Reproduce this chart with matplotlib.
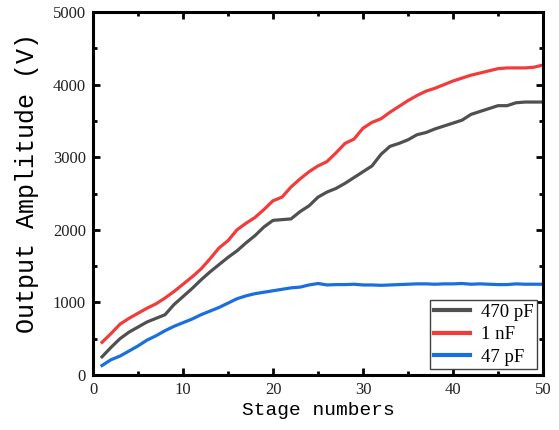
import numpy as np
import matplotlib
matplotlib.use("Agg")
import matplotlib.pyplot as plt
from matplotlib.ticker import MultipleLocator

# stage index 1..50
stages = list(range(1, 51))

amp_470pF = [250, 380, 500, 590, 660, 730, 780, 830, 970, 1080,
             1190, 1310, 1420, 1520, 1620, 1710, 1820, 1920, 2040, 2130,
             2140, 2150, 2250, 2330, 2450, 2520, 2570, 2640, 2720, 2800,
             2880, 3040, 3150, 3190, 3240, 3310, 3340, 3390, 3430, 3470,
             3510, 3590, 3630, 3670, 3710, 3710, 3750, 3760, 3760, 3760]

amp_1nF = [450, 570, 700, 780, 850, 920, 980, 1060, 1150, 1250,
           1350, 1460, 1600, 1750, 1850, 2000, 2090, 2170, 2280, 2400,
           2450, 2590, 2700, 2800, 2880, 2940, 3060, 3190, 3250, 3400,
           3480, 3530, 3620, 3700, 3780, 3850, 3910, 3950, 4000, 4050,
           4090, 4130, 4160, 4190, 4220, 4230, 4230, 4230, 4240, 4270]

amp_47pF = [130, 210, 260, 330, 400, 480, 540, 610, 670, 720,
            770, 830, 880, 930, 990, 1050, 1090, 1120, 1140, 1160,
            1180, 1200, 1210, 1240, 1260, 1240, 1245, 1245, 1250, 1240,
            1240, 1235, 1240, 1245, 1250, 1255, 1255, 1250, 1255, 1255,
            1260, 1250, 1255, 1250, 1245, 1245, 1255, 1250, 1250, 1250]

fig = plt.figure(figsize=(5.59, 4.30), dpi=100)
ax = fig.add_axes([0.1664, 0.128, 0.805, 0.844])

ax.plot(stages, amp_470pF, color="#505050", lw=2.3, label="470 pF")
ax.plot(stages, amp_1nF, color="#f23c3c", lw=2.3, label="1 nF")
ax.plot(stages, amp_47pF, color="#1a6fe0", lw=2.3, label="47 pF")

ax.set_xlim(0, 50)
ax.set_ylim(0, 5000)
ax.xaxis.set_major_locator(MultipleLocator(10))
ax.xaxis.set_minor_locator(MultipleLocator(5))
ax.yaxis.set_major_locator(MultipleLocator(1000))
ax.yaxis.set_minor_locator(MultipleLocator(500))
ax.tick_params(which="both", direction="in", top=True, right=True, width=2)
ax.tick_params(which="major", length=5, labelsize=12, pad=5, labelcolor="#222222")
ax.tick_params(which="minor", length=3)
for lab in ax.get_xticklabels() + ax.get_yticklabels():
    lab.set_family("Liberation Serif")
for sp in ax.spines.values():
    sp.set_linewidth(2.2)

ax.set_xlabel("Stage numbers", family="Liberation Mono", fontsize=14, labelpad=3)
ax.set_ylabel("Output Amplitude (V)", family="Liberation Mono", fontsize=18)
ax.yaxis.set_label_coords(-0.12, 0.53)

leg = ax.legend(loc="lower right", prop={"family": "Liberation Serif", "size": 13.5},
                fancybox=False, edgecolor="#404040", framealpha=1,
                handlelength=1.9, borderaxespad=0.3, labelspacing=0.28,
                borderpad=0.2, handletextpad=0.6)
leg.get_frame().set_linewidth(1.0)
for line in leg.get_lines():
    line.set_linewidth(3)

fig.savefig("out.png", dpi=100)
